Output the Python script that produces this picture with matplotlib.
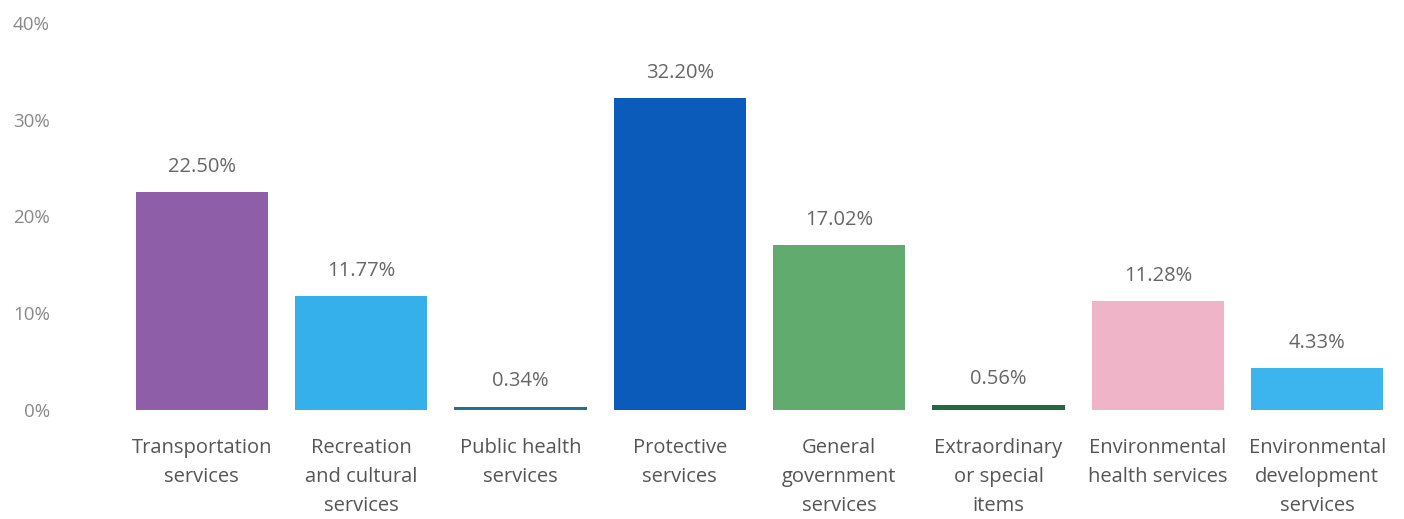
import numpy as np
import matplotlib.pyplot as plt

categories = ["Transportation\nservices", "Recreation\nand cultural\nservices",
              "Public health\nservices", "Protective\nservices",
              "General\ngovernment\nservices", "Extraordinary\nor special\nitems",
              "Environmental\nhealth services", "Environmental\ndevelopment\nservices"]
shares = [22.50, 11.77, 0.34, 32.20, 17.02, 0.56, 11.28, 4.33]
colors = ["#8f5ea9", "#35b0ea", "#216f93", "#0b5cba", "#62ab6e", "#1f6a3e", "#efb4c8", "#3cb4ee"]
yticks = [0, 10, 20, 30, 40]

plt.rcParams['font.family'] = ['Open Sans', 'DejaVu Sans']

fig = plt.figure(figsize=(14.04, 5.19), dpi=100)
ax = fig.add_axes([0.0869, 0.21, 0.908, 0.746])

x = np.arange(len(shares))
bars = ax.bar(x, shares, width=0.83, color=colors)

# percentage label above each bar
for xi, v in zip(x, shares):
    ax.annotate("%.2f%%" % v, (xi, v), xytext=(0, 11), textcoords='offset points',
                ha='center', va='bottom', fontsize=14.5, color='#666666')

ax.set_xlim(-0.5, len(shares) - 0.5)
ax.set_ylim(0, 40)
ax.set_yticks(yticks)
ax.set_yticklabels(["%d%%" % t for t in yticks])
ax.set_xticks(x)
ax.set_xticklabels(categories, linespacing=1.6)

ax.tick_params(axis='y', length=0, pad=52, labelsize=13.5, labelcolor='#888888')
ax.tick_params(axis='x', length=0, pad=20, labelsize=14.5, labelcolor='#555555')
for s in ax.spines.values():
    s.set_visible(False)

fig.savefig("out.png", dpi=100)
